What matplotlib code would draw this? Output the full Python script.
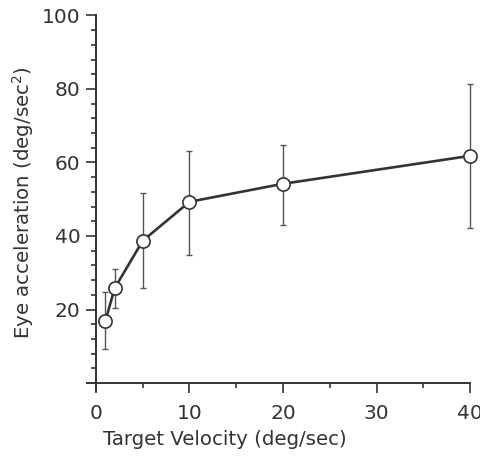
import matplotlib
matplotlib.use("Agg")
import matplotlib.pyplot as plt
from matplotlib.ticker import MultipleLocator

# data
velocity = [1, 2, 5, 10, 20, 40]
accel = [16.8, 25.8, 38.7, 49.3, 54.2, 61.8]
err_low = [9.2, 20.4, 25.8, 34.7, 42.9, 42.3]
err_high = [24.7, 31.0, 51.7, 63.0, 64.7, 81.4]

yerr = [[a - lo for a, lo in zip(accel, err_low)],
        [hi - a for a, hi in zip(accel, err_high)]]

ink = "#333333"
plt.rcParams['font.family'] = ['DejaVu Sans']

fig = plt.figure(figsize=(4.8, 4.57), dpi=100)
ax = fig.add_axes([0.1804, 0.1457, 0.799, 0.8206])

eb = ax.errorbar(velocity, accel, yerr=yerr, fmt='none', ecolor="#555555",
                 elinewidth=1.0, capsize=2.3, capthick=1.0, zorder=2)
for art in eb.lines[1] + eb.lines[2]:
    art.set_clip_on(False)
ax.plot(velocity, accel, color=ink, lw=1.9, marker='o', ms=9.5,
        mfc='white', mec=ink, mew=1.2, zorder=3, clip_on=False)

ax.set_xlim(-1, 40)
ax.set_ylim(-2, 100)
for side in ['top', 'right']:
    ax.spines[side].set_visible(False)
ax.spines['left'].set_position(('data', 0))
ax.spines['bottom'].set_position(('data', 0))
for side in ['left', 'bottom']:
    ax.spines[side].set_linewidth(1.4)
    ax.spines[side].set_color(ink)

ax.xaxis.set_major_locator(MultipleLocator(10))
ax.xaxis.set_minor_locator(MultipleLocator(5))
ax.set_yticks([20, 40, 60, 80, 100])
ax.yaxis.set_minor_locator(MultipleLocator(4))

ax.tick_params(axis='both', which='major', length=7, width=1.2, color=ink,
               labelsize=14.5, labelcolor=ink)
ax.tick_params(axis='both', which='minor', length=3.5, width=1.2, color=ink)
ax.tick_params(axis='x', which='major', pad=8)
ax.tick_params(axis='y', which='major', pad=4)

ax.set_xlabel("Target Velocity (deg/sec)", fontsize=14.2, color=ink)
ax.xaxis.set_label_coords(0.361, -0.105)
ax.set_ylabel("Eye acceleration (deg/sec$^2$)", fontsize=14.2, color=ink, labelpad=4)

fig.savefig("out.png", dpi=100)
